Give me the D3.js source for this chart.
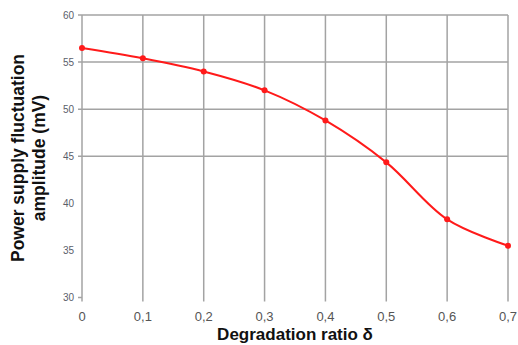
<!DOCTYPE html>
<html>
<head>
<meta charset="utf-8">
<script src="https://cdn.jsdelivr.net/npm/d3@7"></script>
<style>
  html, body { margin: 0; padding: 0; background: #fff; }
  svg { display: block; }
</style>
</head>
<body>
<svg id="chart" width="518" height="345"></svg>
<script>
// Degradation ratio vs. power supply fluctuation amplitude
const ratios = [0, 0.1, 0.2, 0.3, 0.4, 0.5, 0.6, 0.7];
const amplitude = [56.5, 55.4, 54.0, 52.0, 48.8, 44.35, 38.3, 35.5];
const xTicks = [0, 0.1, 0.2, 0.3, 0.4, 0.5, 0.6, 0.7];
const yTicks = [30, 35, 40, 45, 50, 55, 60];
const yGridTicks = [45, 50, 55, 60];

const svg = d3.select("#chart");
const plot = { left: 82, right: 508, top: 15, bottom: 297.5 };

const x = d3.scaleLinear().domain([0, 0.7]).range([plot.left, plot.right]);
const y = d3.scaleLinear().domain([30, 60]).range([plot.bottom, plot.top]);

const gridColor = "#a3a3a3";
const font = "Liberation Sans, Arial, sans-serif";
const fmt = d => d === 0 ? "0" : d3.format(".1f")(d).replace(".", ",");

// vertical grid lines
svg.append("g").selectAll("line").data(xTicks).join("line")
  .attr("x1", d => x(d)).attr("x2", d => x(d))
  .attr("y1", plot.top).attr("y2", plot.bottom + 4)
  .attr("stroke", gridColor).attr("stroke-width", 1.5);

// horizontal grid lines
svg.append("g").selectAll("line").data(yGridTicks).join("line")
  .attr("x1", plot.left - 4).attr("x2", plot.right)
  .attr("y1", d => y(d)).attr("y2", d => y(d))
  .attr("stroke", gridColor).attr("stroke-width", 1.5);

// small tick at the base of the y axis
svg.append("line")
  .attr("x1", plot.left - 4).attr("x2", plot.left)
  .attr("y1", y(30)).attr("y2", y(30))
  .attr("stroke", gridColor).attr("stroke-width", 1.5);

// y tick labels
svg.append("g").selectAll("text").data(yTicks).join("text")
  .attr("x", plot.left - 8).attr("y", d => y(d) + 3.5)
  .attr("text-anchor", "end")
  .attr("font-family", font)
  .attr("font-size", 10)
  .attr("fill", "#5a5e6a")
  .text(d => d);

// x tick labels
svg.append("g").selectAll("text").data(xTicks).join("text")
  .attr("x", d => x(d)).attr("y", 321)
  .attr("text-anchor", "middle")
  .attr("font-family", font)
  .attr("font-size", 13)
  .attr("fill", "#555")
  .text(fmt);

// axis titles
svg.append("text")
  .attr("x", 295).attr("y", 340)
  .attr("text-anchor", "middle")
  .attr("font-family", font)
  .attr("font-size", 17).attr("font-weight", "bold")
  .attr("fill", "#111")
  .text("Degradation ratio δ");

const yTitle = svg.append("text")
  .attr("transform", `translate(0, 158) rotate(-90)`)
  .attr("text-anchor", "middle")
  .attr("font-family", font)
  .attr("font-size", 17.5).attr("font-weight", "bold")
  .attr("fill", "#111");
yTitle.append("tspan").attr("x", 0).attr("y", 24).text("Power supply fluctuation");
yTitle.append("tspan").attr("x", 0).attr("y", 45).text("amplitude (mV)");

// data curve
const pts = ratios.map((r, i) => [r, amplitude[i]]);
const line = d3.line()
  .x(d => x(d[0])).y(d => y(d[1]))
  .curve(d3.curveCatmullRom.alpha(0.5));

svg.append("path").datum(pts)
  .attr("d", line)
  .attr("fill", "none")
  .attr("stroke", "#ff1a1a")
  .attr("stroke-width", 2);

svg.append("g").selectAll("circle").data(pts).join("circle")
  .attr("cx", d => x(d[0])).attr("cy", d => y(d[1]))
  .attr("r", 3)
  .attr("fill", "#ff1a1a");
</script>
</body>
</html>
